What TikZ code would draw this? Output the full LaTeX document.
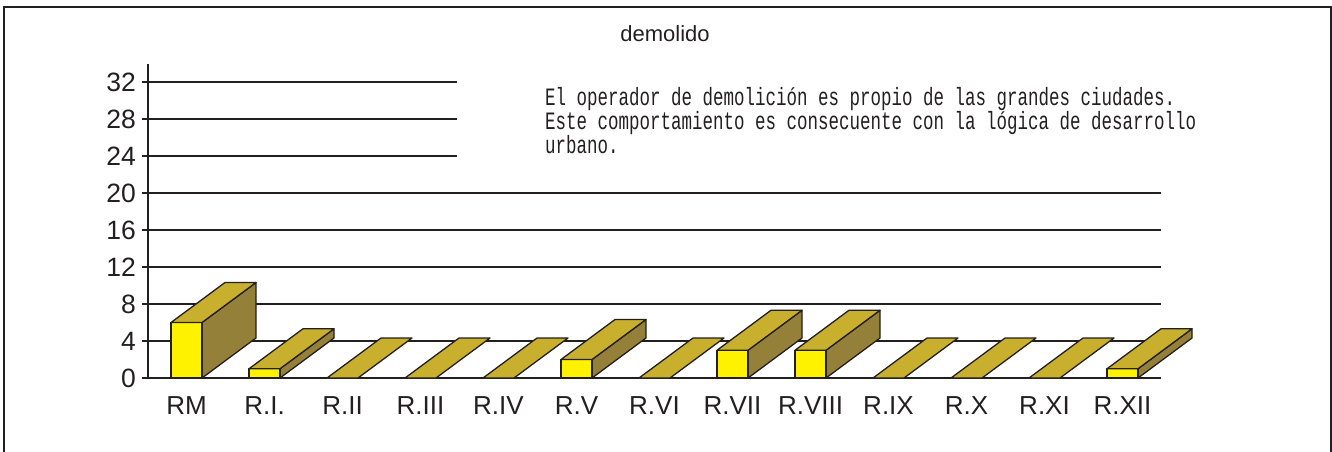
\documentclass[tikz,border=0pt]{standalone}
\usepackage{fontspec}
\usepackage{graphicx}
\setmainfont{Liberation Sans}
\newfontfamily\techfont{Liberation Mono}
\definecolor{barfront}{HTML}{FFF200}
\definecolor{bartop}{HTML}{C8B02E}
\definecolor{barside}{HTML}{958039}
\definecolor{ink}{HTML}{231F20}
\begin{document}
\begin{tikzpicture}[x=1pt,y=-1pt,
  frameline/.style={draw=ink,line width=2pt},
  gridline/.style={draw=ink,line width=1.4pt},
  axisline/.style={draw=ink,line width=1.6pt},
  facebox/.style={draw=ink,line width=1.3pt,line join=round},
  ylab/.style={anchor=east,inner sep=0pt,text=ink,font=\fontsize{26.5}{30}\selectfont},
  xlab/.style={anchor=base,inner sep=0pt,text=ink,font=\fontsize{26}{30}\selectfont},
  titlelab/.style={anchor=base,inner sep=0pt,text=ink,font=\fontsize{22}{26}\selectfont},
  notelab/.style={anchor=base west,inner sep=0pt,text=ink,font=\techfont\fontsize{25}{28}\selectfont}]
\useasboundingbox (0,0) rectangle (1332,451);
% frame
\draw[frameline] (4,452) -- (4,7) -- (1331,7) -- (1331,452);
% title
\node[titlelab] (title) at (665,41) {demolido};
% grid lines and y labels
\foreach \v in {0,4,...,20} {
  \draw[gridline] (142,{378-\v*9.25}) -- (1161,{378-\v*9.25});
  \node[ylab] (y\v) at (136,{378-\v*9.25}) {\v};
}
\foreach \v in {24,28,32} {
  \draw[gridline] (142,{378-\v*9.25}) -- (457,{378-\v*9.25});
  \node[ylab] (y\v) at (136,{378-\v*9.25}) {\v};
}
\draw[axisline] (148,64) -- (148,378);
% note text
\node[notelab] (note1) at (545,105) {\scalebox{0.7}[1]{El operador de demolición es propio de las grandes ciudades.}};
\node[notelab] (note2) at (545,129) {\scalebox{0.7}[1]{Este comportamiento es consecuente con la lógica de desarrollo}};
\node[notelab] (note3) at (545,153) {\scalebox{0.7}[1]{urbano.}};
% bars
\foreach \i/\val/\lab in {0/6/RM,1/1/R.I.,2/0/R.II,3/0/R.III,4/0/R.IV,5/2/R.V,6/0/R.VI,7/3/R.VII,8/3/R.VIII,9/0/R.IX,10/0/R.X,11/0/R.XI,12/1/R.XII} {
  \pgfmathsetmacro{\xa}{171+78*\i}
  \pgfmathsetmacro{\xb}{\xa+31}
  \pgfmathsetmacro{\yt}{378-\val*9.25}
  \ifnum\val>0
    \draw[facebox,fill=barside] (\xb,378) -- (\xb,\yt) -- ++(54,-40) -- (\xb+54,338) -- cycle;
    \draw[facebox,fill=barfront] (\xa,378) rectangle (\xb,\yt);
  \fi
  \draw[facebox,fill=bartop] (\xa,\yt) -- (\xb,\yt) -- ++(54,-40) -- (\xa+54,\yt-40) -- cycle;
  \node[xlab] (lab\i) at ({\xa+15.5},414) {\lab};
}
\end{tikzpicture}
\end{document}
